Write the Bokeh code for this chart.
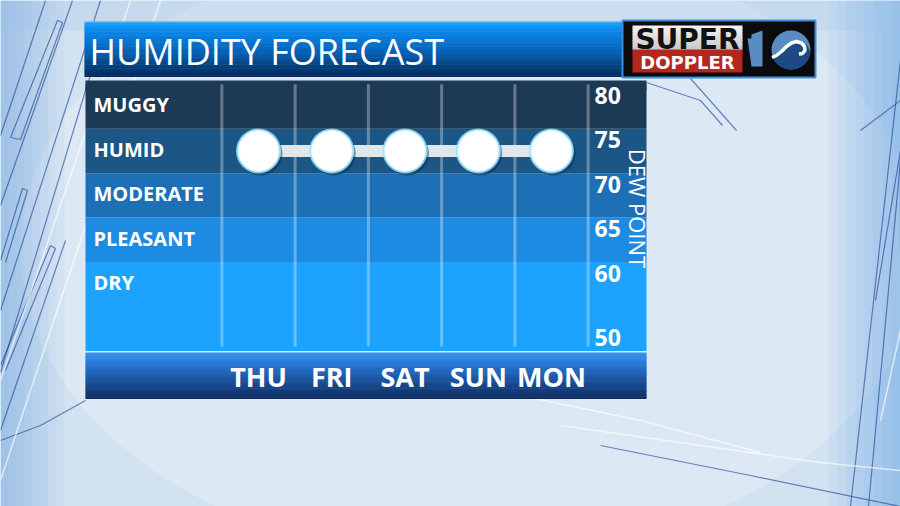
import numpy as np
from bokeh.plotting import figure
from bokeh.models import Range1d
from bokeh.core.properties import value
from bokeh.embed import file_html
from bokeh.resources import INLINE

# ---------------- data ----------------
days = ["THU", "FRI", "SAT", "SUN", "MON"]
dew_points = [72.5, 72.5, 72.5, 72.5, 72.5]
band_names = ["DRY", "PLEASANT", "MODERATE", "HUMID", "MUGGY"]
band_bottoms = [50, 60, 65, 70, 75]
band_tops = [60, 65, 70, 75, 80]
band_colors = ["#1da3fe", "#1e8be2", "#1e70b6", "#1b5685", "#1d3a55"]
dp_ticks = [80, 75, 70, 65, 60, 50]
title_text = "HUMIDITY FORECAST"
axis_title = "DEW POINT"

# ---------------- geometry ----------------
W, H = 900, 506
OX, OY = 0, 0
DAY_X0, DAY_DX = 258.0, 73.25            # screen x of first day, spacing
DP_REF, DP_Y, DP_PX = 64.0, 226.0, 8.892  # dew point scale
FONT = value("Open Sans")


def hex2rgb(h):
    h = h.lstrip("#")
    return np.array([int(h[i:i + 2], 16) for i in (0, 2, 4)], dtype=float)


def interp_color(stops, y):
    ys = [s[0] for s in stops]
    cols = [hex2rgb(s[1]) for s in stops]
    c = cols[0] if y <= ys[0] else cols[-1]
    for i in range(len(ys) - 1):
        if ys[i] <= y <= ys[i + 1]:
            t = (y - ys[i]) / (ys[i + 1] - ys[i])
            c = cols[i] * (1 - t) + cols[i + 1] * t
            break
    return "#%02x%02x%02x" % tuple(int(round(v)) for v in c)


def gradient(p, x0, x1, y0, y1, stops, n=40):
    ys = np.linspace(y0, y1, n + 1)
    cols = [interp_color(stops, (a + b) / 2) for a, b in zip(ys[:-1], ys[1:])]
    p.quad(left=x0, right=x1, top=ys[:-1], bottom=ys[1:] + 0.6,
           fill_color=cols, line_color=None)


p = figure(width=W, height=H, x_range=Range1d(OX, OX + W), y_range=Range1d(OY + H, OY),
           output_backend="svg", toolbar_location=None, min_border=0,
           x_axis_type=None, y_axis_type=None, outline_line_color=None,
           background_fill_color="#d3e2f1", border_fill_color="#d3e2f1")
p.grid.visible = False
p.extra_x_ranges = {"day": Range1d((OX - DAY_X0) / DAY_DX, (OX + W - DAY_X0) / DAY_DX)}
p.extra_y_ranges = {"dp": Range1d(DP_REF - (OY + H - DP_Y) / DP_PX, DP_REF + (DP_Y - OY) / DP_PX)}

# ---------------- background decoration ----------------
p.ellipse(x=470, y=250, width=900, height=620, fill_color="white", fill_alpha=0.22, line_color=None)
for i in range(8):
    p.quad(left=900 - 9 * (i + 1), right=900, top=0, bottom=506, fill_color="#4f97e3", fill_alpha=0.07, line_color=None)
    p.quad(left=0, right=8 * (i + 1), top=0, bottom=506, fill_color="#4f97e3", fill_alpha=0.06, line_color=None)
p.quad(left=0, right=900, top=0, bottom=30, fill_color="#9cc4ea", fill_alpha=0.25, line_color=None)

dark_x = [[0, 45], [0, 72], [10, 57, 62, 20, 10], [0, 100], [0, 88, 96], [0, 22, 27, 5],
          [0, 50, 55, 5], [0, 65], [0, 40, 85], [646, 700, 722], [690, 736],
          [900, 850], [900, 868], [860, 900], [875, 900, 900], [600, 750, 900]]
dark_y = [[135, 0], [205, 0], [137, 20, 22, 139, 137], [310, 0], [372, 80, 60], [260, 188, 190, 262],
          [365, 245, 248, 370], [430, 240], [440, 425, 400], [82, 100, 125], [78, 130],
          [60, 506], [160, 506], [130, 100], [300, 150, 250], [445, 475, 506]]
p.multi_line(xs=dark_x, ys=dark_y, line_color="#1b3d8f", line_alpha=0.6, line_width=1.2)
light_x = [[0, 130], [0, 160], [560, 700, 820, 900], [520, 640, 760], [880, 900]]
light_y = [[380, 0], [480, 0], [425, 445, 462, 470], [395, 420, 452], [420, 330]]
p.multi_line(xs=light_x, ys=light_y, line_color="white", line_alpha=0.65, line_width=1.5)

# ---------------- title bar ----------------
gradient(p, 84, 624, 21, 76, [(21, "#18a2ff"), (30, "#0a89ea"), (50, "#0563b9"), (76, "#022a58")])
p.segment(x0=84, y0=21.5, x1=624, y1=21.5, line_color="#6cc0ff", line_width=1)
p.text(x=[89], y=[51], text=[title_text], text_font=FONT, text_font_size="36px",
       text_color="white", text_align="left", text_baseline="middle")

# ---------------- logo ----------------
p.quad(left=622, right=815, top=20, bottom=77, fill_color="#0b0b0d", line_color="#3b8ede", line_width=2)
gradient(p, 632, 742, 25, 49, [(25, "#f4f4f4"), (49, "#c9c9c9")], n=8)
p.quad(left=632, right=742, top=49, bottom=72, fill_color="#b3271f", line_color=None)
p.text(x=[687], y=[39], text=["SUPER"], text_font=value("DejaVu Sans"), text_font_style="bold",
       text_font_size="28px", text_color="#111111", text_align="center", text_baseline="middle")
p.text(x=[687], y=[62], text=["DOPPLER"], text_font=value("DejaVu Sans"), text_font_style="bold",
       text_font_size="18px", text_color="white", text_align="center", text_baseline="middle")
p.patch(x=[751, 762, 762, 751, 747, 751], y=[34, 30, 66, 66, 38, 38], fill_color="#5a8cc4", line_color=None)
cx, cy, r = 790.5, 49.5, 19.5
p.scatter(x=[cx], y=[cy], size=2 * r, fill_color="#5a8cc4", line_color=None)
wave_x = [771.5, 776, 781, 786, 791, 796, 801, 804, 804.5, 802, 798.5]
wave_y = [57, 55, 51, 46, 42.5, 41, 42.5, 46, 50, 53, 53.5]
t = np.linspace(0.05, 2.75, 30)
dark_px = wave_x[:7] + [806, 809.5] + list(cx + r * np.cos(t))
dark_py = wave_y[:7] + [44, 50] + list(cy + r * np.sin(t))
p.patch(x=dark_px, y=dark_py, fill_color="#1d4a82", line_color=None)
p.line(x=wave_x, y=wave_y, line_color="white", line_width=3.5)

# ---------------- chart panel ----------------
p.quad(left=85, right=646, top=80, bottom=90, fill_color=band_colors[-1], line_color=None)
p.quad(left=85, right=646, bottom=band_bottoms, top=band_tops, fill_color=band_colors,
       line_color=None, y_range_name="dp")

idx = np.arange(len(days))
grid_x = np.arange(len(days) + 1) - 0.5
p.segment(x0=grid_x, y0=50.5, x1=grid_x, y1=80, x_range_name="day", y_range_name="dp",
          line_color="white", line_alpha=0.32, line_width=3)

# band labels
p.text(x=[93] * len(band_names), y=np.array(band_tops) - 2.3, text=band_names, y_range_name="dp",
       text_font=FONT, text_font_style="bold", text_font_size="20px", text_color="white",
       text_align="left", text_baseline="middle")

# dew point labels
tick_y = [tk + 1.5 if tk == min(dp_ticks) else tk - 1.25 for tk in dp_ticks]
p.text(x=[594] * len(dp_ticks), y=tick_y, text=[str(tk) for tk in dp_ticks], y_range_name="dp",
       text_font=FONT, text_font_style="bold", text_font_size="23px", text_color="white",
       text_align="left", text_baseline="middle")
p.text(x=[637], y=[208], text=[axis_title], angle=-np.pi / 2, text_font=FONT,
       text_font_size="22px", text_color="white", text_align="center", text_baseline="middle")

# series
dp = np.array(dew_points)
p.line(x=idx, y=dp, x_range_name="day", y_range_name="dp", line_color="#dfe7ee", line_width=12)
p.scatter(x=idx + 2.0 / DAY_DX, y=dp - 2.5 / DP_PX, x_range_name="day", y_range_name="dp",
          size=44, fill_color="#0a2540", fill_alpha=0.45, line_color=None)
p.scatter(x=idx, y=dp, x_range_name="day", y_range_name="dp",
          size=45, fill_color="#8fe4ff", fill_alpha=0.85, line_color=None)
p.scatter(x=idx, y=dp, x_range_name="day", y_range_name="dp",
          size=41, fill_color="white", line_color="#d4f4ff", line_width=1)

# ---------------- bottom bar ----------------
gradient(p, 85, 646, 352, 398, [(352, "#3a94f2"), (364, "#2675d2"), (384, "#17498e"), (398, "#0f2e60")])
p.text(x=idx, y=[376] * len(days), text=days, x_range_name="day",
       text_font=FONT, text_font_style="bold", text_font_size="27px", text_color="white",
       text_align="center", text_baseline="middle")

open("out.html", "w").write(file_html(p, INLINE))
